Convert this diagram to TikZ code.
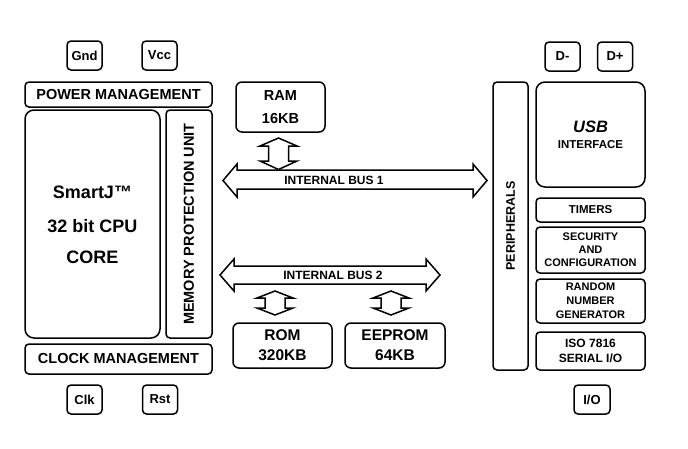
\documentclass[tikz,border=0pt]{standalone}
\usepackage{fontspec}
\setmainfont{Liberation Sans}
\begin{document}
\begin{tikzpicture}[x=1pt,y=-1pt,
  every node/.style={font=\bfseries},
  blk/.style={draw, line width=1.5pt, rounded corners=4pt, inner sep=0pt, align=center},
  bigblk/.style={blk, rounded corners=9pt},
  pin/.style={blk, minimum width=35pt, minimum height=29pt, font=\bfseries\fontsize{13}{13}\selectfont},
  fat/.style={draw, line width=1.5pt, fill=white, line join=miter},
  fs/.style={font=\bfseries\fontsize{#1}{#1}\selectfont}
]
\useasboundingbox (0,0) rectangle (688,448);
% pins
\node[pin] (gnd) at (84.5,55.5) {Gnd};
\node[pin] (vcc) at (159.5,55.5) {Vcc};
\node[pin] (clk) at (84.5,399.5) {Clk};
\node[pin] (rst) at (160,399.5) {Rst};
\node[pin] (dm) at (562.5,56.5) {D-};
\node[pin] (dp) at (615,56.5) {D+};
\node[pin, minimum width=36pt] (io) at (592,399.5) {I/O};
% left column
\node[blk, fs=14.5, minimum width=187pt, minimum height=25pt] (pwr) at (118.5,94.5) {POWER MANAGEMENT};
\node[bigblk, minimum width=135pt, minimum height=228pt] (cpu) at (92.5,224) {};
\node[fs=18] (t1) at (92.5,192) {SmartJ™};
\node[fs=18] (t2) at (92.5,226) {32 bit CPU};
\node[fs=18] (t3) at (92.5,257) {CORE};
\node[blk, fs=14.5, rotate=90, minimum width=228pt, minimum height=46pt] (mpu) at (189,224) {MEMORY PROTECTION UNIT};
\node[blk, fs=14.5, minimum width=187pt, minimum height=30pt] (clkm) at (118.5,359) {CLOCK MANAGEMENT};
% memories
\node[blk, fs=14.5, minimum width=89pt, minimum height=50pt, rounded corners=6pt] (ram) at (280.5,107) {RAM\\[8.5pt]16KB};
\node[blk, fs=15.5, minimum width=99pt, minimum height=45pt, rounded corners=6pt] (rom) at (282.5,345.5) {ROM\\[4.5pt]320KB};
\node[blk, fs=15.5, minimum width=100pt, minimum height=45pt, rounded corners=6pt] (eep) at (395,345.5) {EEPROM\\[4.5pt]64KB};
% buses
\draw[fat] (223,180.5) -- (237,164) -- (237,170) -- (473,170) -- (473,164) -- (487,180.5)
  -- (473,197) -- (473,189) -- (237,189) -- (237,197) -- cycle;
\node[fs=12] (bus1) at (334,180) {INTERNAL BUS 1};
\draw[fat] (220,275) -- (234,259) -- (234,266) -- (426,266) -- (426,259) -- (440,275)
  -- (426,291) -- (426,284) -- (234,284) -- (234,291) -- cycle;
\node[fs=12] (bus2) at (333,275) {INTERNAL BUS 2};
% vertical fat arrows
\draw[fat] (278.5,138) -- (297,146) -- (288.5,146) -- (288.5,161) -- (297,161) -- (278.5,169.5)
  -- (260,161) -- (268.5,161) -- (268.5,146) -- (260,146) -- cycle;
\draw[fat] (275,291) -- (293,298) -- (285,298) -- (285,308) -- (293,308) -- (275,315)
  -- (257,308) -- (265,308) -- (265,298) -- (257,298) -- cycle;
\draw[fat] (391,291) -- (409,298) -- (401,298) -- (401,308) -- (409,308) -- (391,315)
  -- (373,308) -- (381,308) -- (381,298) -- (373,298) -- cycle;
% right column
\node[blk, fs=12.5, rotate=90, minimum width=288pt, minimum height=35pt] (per) at (510.5,226) {PERIPHERALS};
\node[bigblk, minimum width=109pt, minimum height=105pt] (usb) at (590.5,134.5) {{\bfseries\itshape\fontsize{16.5}{16.5}\selectfont USB}\\[4pt]{\fontsize{11.5}{11.5}\selectfont INTERFACE}};
\node[blk, fs=11.5, minimum width=109pt, minimum height=24pt] (tim) at (590.5,210) {TIMERS};
\node[blk, fs=11, minimum width=109pt, minimum height=46pt] (sec) at (590.5,250) {SECURITY\\[2pt]AND\\[2pt]CONFIGURATION};
\node[blk, fs=11, minimum width=109pt, minimum height=44pt] (rng) at (590.5,301) {RANDOM\\[3pt]NUMBER\\[3pt]GENERATOR};
\node[blk, fs=12, minimum width=109pt, minimum height=38pt] (iso) at (590.5,351) {ISO 7816\\[3pt]SERIAL I/O};
\end{tikzpicture}
\end{document}
